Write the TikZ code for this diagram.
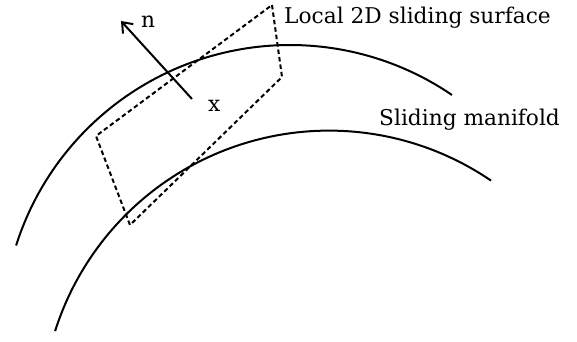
\documentclass[tikz,border=0pt]{standalone}
\usepackage{fontspec}
\setmainfont{DejaVu Serif}
\usetikzlibrary{arrows.meta}
\begin{document}
\begin{tikzpicture}[x=1pt,y=1pt,
  curve/.style={line width=2pt},
  dashq/.style={line width=2pt, dash pattern=on 4.5pt off 3pt},
  lbl/.style={font=\fontsize{21.7}{25}\selectfont, inner sep=0pt, anchor=base west}]
\useasboundingbox (0,0) rectangle (577,341);
% manifolds
\draw[curve] (16.1,95.5) arc[start angle=162.4, end angle=55.7, radius=287.4];
\draw[curve] (55.1,9.9) arc[start angle=162.4, end angle=55.7, radius=287.4];
% local surface
\coordinate (q1) at (272,336);
\coordinate (q2) at (282,264);
\coordinate (q3) at (130,116);
\coordinate (q4) at (96,205);
\draw[dashq] (q1) -- (q2) -- (q3) -- (q4) -- cycle;
% normal
\coordinate (xpt) at (192,242);
\coordinate (npt) at (121,320);
\draw[curve, -{Straight Barb[length=9pt, width=14pt]}] (xpt) -- (npt);
\node[lbl] (n) at (141,314) {n};
\node[lbl] (x) at (208,230) {x};
\node[lbl] (ls) at (284,318) {Local 2D sliding surface};
\node[lbl] (sm) at (379,216) {Sliding manifold};
\end{tikzpicture}
\end{document}
